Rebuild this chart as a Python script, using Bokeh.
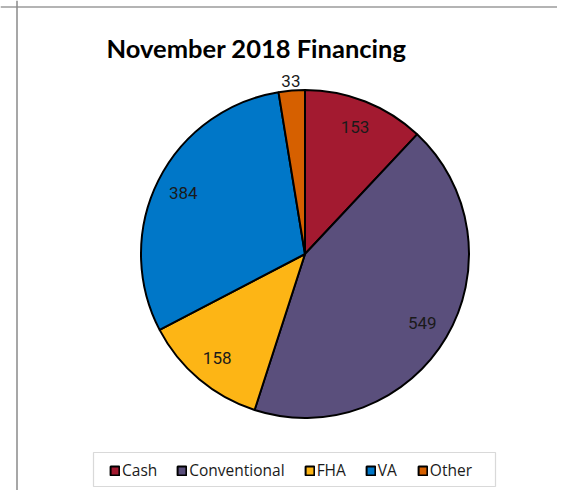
import math
from bokeh.plotting import figure
from bokeh.models import (ColumnDataSource, Range1d, Legend, LegendItem, Label,
                          Span, BoxAnnotation)
from bokeh.core.properties import value
from bokeh.embed import file_html
from bokeh.resources import INLINE

# ---- data ----
categories = ["Cash", "Conventional", "FHA", "VA", "Other"]
counts = [153, 549, 158, 384, 33]
colors = ["#A31A30", "#5A4F7C", "#FDB515", "#0077C8", "#D66000"]
title_text = "November 2018 Financing"

# ---- geometry ----
total = sum(counts)
starts, ends, lx, ly = [], [], [], []
R = 164
cum = 0
for v in counts:
    a0 = math.pi / 2 - 2 * math.pi * cum / total
    cum += v
    a1 = math.pi / 2 - 2 * math.pi * cum / total
    starts.append(a0)
    ends.append(a1)
    mid = (a0 + a1) / 2
    frac = v / total
    rr = R + 10 if frac < 0.05 else R * 0.83
    lx.append(rr * math.cos(mid))
    ly.append(rr * math.sin(mid))

src = ColumnDataSource(dict(cat=categories, val=counts, color=colors,
                            start=starts, end=ends))
lsrc = ColumnDataSource(dict(x=lx, y=ly, txt=[str(v) for v in counts]))

W, H = 557, 490
CX, CY = 304.5, 253.5   # pie centre in page pixels
p = figure(width=W, height=H, output_backend="svg", toolbar_location=None,
           x_range=Range1d(-CX, -CX + W), y_range=Range1d(CY - H, CY),
           min_border=0, outline_line_color=None)
p.axis.visible = False
p.grid.visible = False
p.background_fill_color = "white"
p.border_fill_color = "white"

# chart-area frame lines (top / left)
p.add_layout(Span(location=CY - 6.5, dimension="width", line_color="#b4b4b4", line_width=2))
p.add_layout(Span(location=16.5 - CX, dimension="height", line_color="#8a8a8a", line_width=1.5))

r = p.wedge(x=0, y=0, radius=R, start_angle="start", end_angle="end",
            direction="clock", fill_color="color", line_color="black",
            line_width=2, source=src)

p.text(x="x", y="y", text="txt", source=lsrc, text_align="center",
       text_baseline="middle", text_font=value("Roboto"),
       text_font_size="17px", text_color="#1a1a1a")

p.add_layout(Label(x=256 - CX, y=CY - 47, text=title_text, text_align="center",
                   text_baseline="alphabetic", text_font="Lato",
                   text_font_style="bold", text_font_size="25.5px",
                   text_color="black"))

# legend frame
p.add_layout(BoxAnnotation(left=93 - CX, right=495 - CX, top=CY - 452, bottom=CY - 486,
                           fill_alpha=0, line_color="#808080", line_width=1.2))

legend = Legend(items=[LegendItem(label=c, renderers=[r], index=i)
                       for i, c in enumerate(categories)],
                orientation="horizontal", location=(109, 9),
                glyph_width=11, glyph_height=11, label_standoff=2,
                spacing=19, padding=5, margin=0,
                label_height=16,
                border_line_color=None,
                background_fill_alpha=0,
                label_text_font="Open Sans",
                label_text_font_size="15.5px", label_text_color="#1a1a1a")
p.add_layout(legend)

open("out.html", "w").write(file_html(p, INLINE))
